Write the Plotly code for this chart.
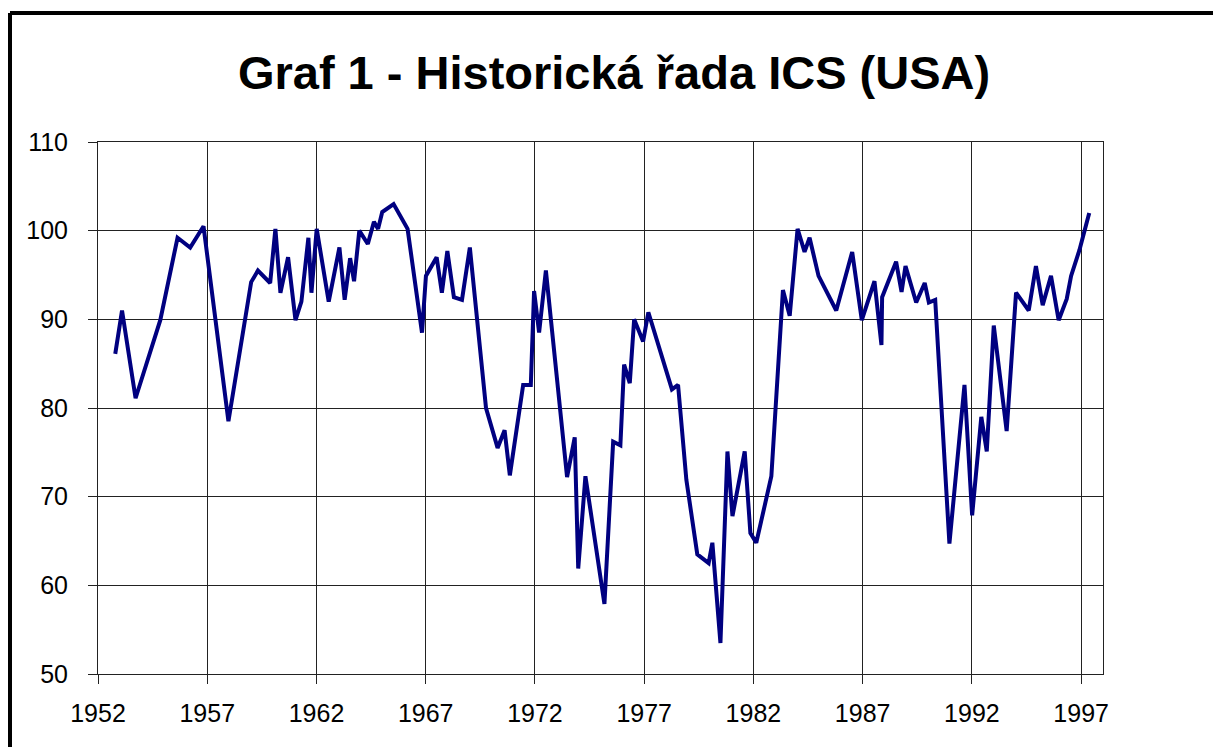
import plotly.graph_objects as go

years = [
    1952.79, 1953.10, 1953.72, 1954.85, 1955.64, 1956.22, 1956.83, 1957.97,
    1959.01, 1959.32, 1959.88, 1960.12, 1960.35, 1960.70, 1961.04, 1961.31,
    1961.63, 1961.77, 1962.01, 1962.56, 1963.05, 1963.29, 1963.54, 1963.72,
    1963.96, 1964.35, 1964.63, 1964.82, 1965.01, 1965.53, 1966.17, 1966.83,
    1967.01, 1967.50, 1967.74, 1967.99, 1968.29, 1968.66, 1969.02, 1969.76,
    1970.29, 1970.61, 1970.85, 1971.46, 1971.81, 1971.96, 1972.19, 1972.50,
    1973.47, 1973.82, 1973.98, 1974.31, 1975.18, 1975.58, 1975.91, 1976.08,
    1976.34, 1976.54, 1976.95, 1977.19, 1978.27, 1978.55, 1978.93, 1979.43,
    1979.95, 1980.12, 1980.49, 1980.81, 1981.04, 1981.60, 1981.86, 1982.13,
    1982.82, 1983.35, 1983.66, 1984.02, 1984.34, 1984.57, 1984.98, 1985.79,
    1986.52, 1986.96, 1987.54, 1987.86, 1987.89, 1988.53, 1988.78, 1988.96,
    1989.45, 1989.84, 1990.03, 1990.32, 1990.97, 1991.66, 1992.01, 1992.43,
    1992.68, 1993.00, 1993.59, 1994.02, 1994.60, 1994.93, 1995.24, 1995.62,
    1995.97, 1996.34, 1996.54, 1996.92, 1997.37,
]
ics = [
    86.1, 91.0, 81.1, 89.9, 99.2, 98.1, 100.5, 78.5,
    94.2, 95.5, 94.1, 100.2, 93.0, 97.0, 89.9, 92.0,
    99.2, 93.0, 100.2, 92.0, 98.1, 92.2, 96.9, 94.3,
    100.0, 98.5, 101.0, 100.2, 102.1, 103.0, 100.2, 88.5,
    94.9, 97.0, 93.0, 97.7, 92.5, 92.2, 98.1, 80.0,
    75.5, 77.5, 72.4, 82.6, 82.6, 93.2, 88.5, 95.5,
    72.2, 76.7, 61.9, 72.3, 57.9, 76.2, 75.8, 84.9,
    82.8, 90.0, 87.5, 90.8, 82.1, 82.6, 71.9, 63.5,
    62.5, 64.8, 53.5, 75.1, 67.8, 75.1, 65.9, 64.8,
    72.3, 93.3, 90.4, 100.2, 97.6, 99.2, 94.9, 91.0,
    97.6, 89.9, 94.3, 87.1, 92.5, 96.5, 93.1, 96.0,
    91.9, 94.1, 91.9, 92.2, 64.7, 82.6, 67.9, 79.0,
    75.1, 89.3, 77.4, 93.0, 91.0, 96.0, 91.6, 94.9,
    89.9, 92.3, 94.9, 97.8, 102.0,
]
x_ticks = [1952, 1957, 1962, 1967, 1972, 1977, 1982, 1987, 1992, 1997]
y_ticks = [50, 60, 70, 80, 90, 100, 110]
title_text = "Graf 1 - Historická řada ICS (USA)"

fig = go.Figure()
fig.add_trace(go.Scatter(
    x=years, y=ics, mode="lines",
    line=dict(color="#000080", width=4),
    hoverinfo="x+y", showlegend=False,
))

W, H = 1213, 747
L, R, T, B = 98, 110, 142, 73
pw, ph = W - L - R, H - T - B
frame_x = (10 - L) / pw
frame_y = 1 + (T - 13) / ph

axis_font = dict(family="Liberation Sans, Arial, sans-serif", size=25, color="black")

fig.update_layout(
    width=W, height=H,
    margin=dict(l=L, r=R, t=T, b=B, autoexpand=False),
    paper_bgcolor="white", plot_bgcolor="white",
    title=dict(
        text=title_text, x=614 / W, xanchor="center",
        y=1 - 73 / H, yanchor="middle",
        font=dict(family="Liberation Sans, Arial, sans-serif", size=47, color="black", weight="bold"),
    ),
    xaxis=dict(
        range=[1952, 1998], tickvals=x_ticks, ticktext=[str(v) for v in x_ticks],
        showgrid=True, gridcolor="#222222", gridwidth=1,
        showline=True, linecolor="#222222", linewidth=1, mirror=True,
        ticks="outside", ticklen=9, tickcolor="#222222", tickwidth=1,
        tickfont=axis_font, zeroline=False, ticklabelstandoff=8,
    ),
    yaxis=dict(
        range=[50, 110], tickvals=y_ticks,
        showgrid=True, gridcolor="#222222", gridwidth=1,
        showline=True, linecolor="#222222", linewidth=1, mirror=True,
        ticks="outside", ticklen=9, tickcolor="#222222", tickwidth=1,
        tickfont=axis_font, zeroline=False, ticklabelstandoff=15,
    ),
    shapes=[
        dict(type="line", xref="paper", yref="paper", x0=frame_x, x1=frame_x,
             y0=-0.5, y1=frame_y, line=dict(color="black", width=4)),
        dict(type="line", xref="paper", yref="paper", x0=frame_x, x1=1.5,
             y0=frame_y, y1=frame_y, line=dict(color="black", width=4)),
    ],
)

fig.write_html(
    "out.html",
    config={"displayModeBar": False},
    post_script="document.body.style.margin='0';document.body.style.overflow='hidden';",
)
